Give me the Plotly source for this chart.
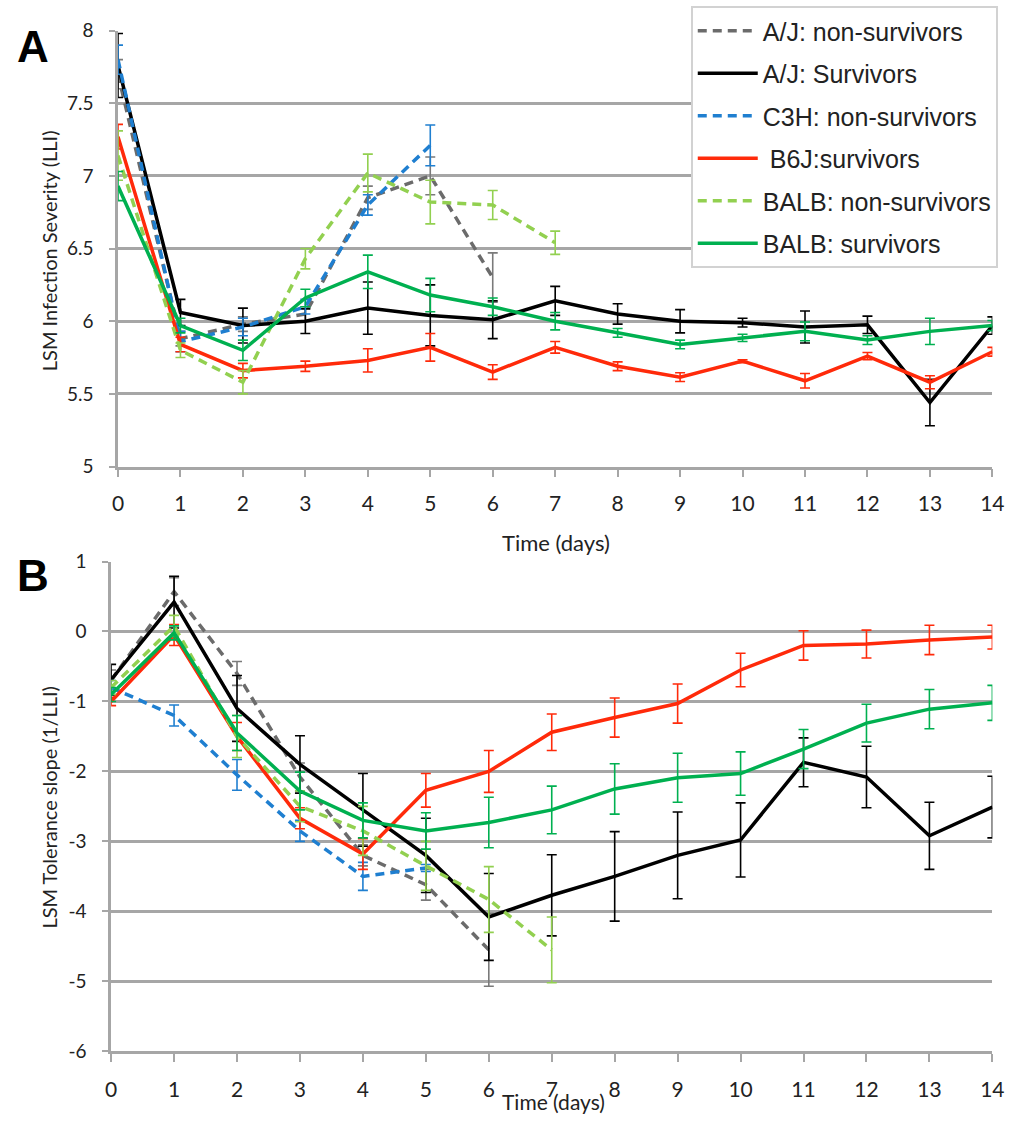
import plotly.graph_objects as go

# ---------------- data ----------------
series_names = ["A/J: non-survivors", "A/J: Survivors", "C3H: non-survivors",
                " B6J:survivors", "BALB: non-survivors", "BALB: survivors"]

days_full = list(range(15))
days_aj_ns = list(range(7))
days_c3h_ns = list(range(6))
days_balb_ns = list(range(8))

# Panel A: LSM Infection Severity (LLI)
A_aj_ns = [7.70, 5.88, 5.98, 6.05, 6.85, 7.00, 6.30]
A_aj_ns_err = [0.10, 0.05, 0.05, 0.05, 0.08, 0.13, 0.17]
A_aj_s = [7.76, 6.06, 5.97, 6.00, 6.09, 6.04, 6.01, 6.14, 6.05, 6.00, 5.99, 5.96, 5.975, 5.44, 5.97]
A_aj_s_err = [0.22, 0.09, 0.12, 0.085, 0.18, 0.21, 0.13, 0.10, 0.07, 0.08, 0.03, 0.11, 0.06, 0.16, 0.06]
A_c3h_ns = [7.80, 5.86, 5.96, 6.10, 6.80, 7.21]
A_c3h_ns_err = [0.10, 0.07, 0.06, 0.05, 0.07, 0.14]
A_b6j_s = [7.27, 5.84, 5.66, 5.69, 5.73, 5.82, 5.65, 5.82, 5.69, 5.615, 5.725, 5.59, 5.76, 5.58, 5.79]
A_b6j_s_err = [0.085, 0.05, 0.05, 0.035, 0.08, 0.095, 0.05, 0.04, 0.03, 0.03, 0.01, 0.05, 0.025, 0.045, 0.03]
A_balb_ns = [7.14, 5.80, 5.58, 6.43, 7.02, 6.82, 6.80, 6.54]
A_balb_ns_err = [0.17, 0.05, 0.08, 0.07, 0.13, 0.15, 0.10, 0.08]
A_balb_s = [6.93, 5.97, 5.80, 6.16, 6.34, 6.18, 6.10, 6.00, 5.92, 5.84, 5.885, 5.93, 5.87, 5.93, 5.97]
A_balb_s_err = [0.10, 0.05, 0.07, 0.06, 0.115, 0.115, 0.06, 0.06, 0.03, 0.03, 0.025, 0.065, 0.03, 0.09, 0.035]

# Panel B: LSM Tolerance slope (1/LLI)
B_aj_ns = [-0.70, 0.57, -0.60, -2.08, -3.20, -3.62, -4.55]
B_aj_ns_err = [0.15, 0.20, 0.17, 0.20, 0.15, 0.22, 0.52]
B_aj_s = [-0.69, 0.42, -1.10, -1.90, -2.55, -3.20, -4.08, -3.77, -3.50, -3.20, -2.98, -1.87, -2.08, -2.92, -2.51]
B_aj_s_err = [0.22, 0.37, 0.47, 0.41, 0.52, 0.53, 0.62, 0.58, 0.64, 0.62, 0.53, 0.35, 0.44, 0.48, 0.44]
B_c3h_ns = [-0.80, -1.20, -2.05, -2.85, -3.50, -3.38]
B_c3h_ns_err = [0.10, 0.15, 0.22, 0.15, 0.20, 0.05]
B_b6j_s = [-1.00, -0.05, -1.50, -2.67, -3.18, -2.27, -2.00, -1.44, -1.23, -1.03, -0.55, -0.20, -0.18, -0.12, -0.08]
B_b6j_s_err = [0.06, 0.15, 0.20, 0.15, 0.22, 0.24, 0.30, 0.26, 0.28, 0.28, 0.24, 0.21, 0.20, 0.21, 0.17]
B_balb_ns = [-0.80, 0.08, -1.50, -2.50, -2.85, -3.35, -3.83, -4.55]
B_balb_ns_err = [0.10, 0.15, 0.30, 0.22, 0.35, 0.35, 0.47, 0.47]
B_balb_s = [-0.90, -0.02, -1.45, -2.28, -2.70, -2.85, -2.73, -2.55, -2.25, -2.09, -2.03, -1.68, -1.31, -1.11, -1.02]
B_balb_s_err = [0.10, 0.10, 0.25, 0.27, 0.25, 0.26, 0.36, 0.34, 0.36, 0.35, 0.31, 0.28, 0.27, 0.28, 0.25]

x_ticks = list(range(15))
A_yticks = [5, 5.5, 6, 6.5, 7, 7.5, 8]
A_yticklabels = ["5", "5.5", "6", "6.5", "7", "7.5", "8"]
B_yticks = [-6, -5, -4, -3, -2, -1, 0, 1]
B_yticklabels = ["-6", "-5", "-4", "-3", "-2", "-1", "0", "1"]

# ---------------- styles ----------------
colors = ["#6b6b6b", "#000000", "#1f7fd0", "#ff2a0a", "#92d050", "#00b050"]
err_colors = ["#7a7a7a", "#000000", "#1f7fd0", "#ff2a0a", "#92d050", "#00b050"]
dashes = ["9px,6px", "solid", "9px,6px", "solid", "9px,6px", "solid"]

A_sets = [(days_aj_ns, A_aj_ns, A_aj_ns_err), (days_full, A_aj_s, A_aj_s_err),
          (days_c3h_ns, A_c3h_ns, A_c3h_ns_err), (days_full, A_b6j_s, A_b6j_s_err),
          (days_balb_ns, A_balb_ns, A_balb_ns_err), (days_full, A_balb_s, A_balb_s_err)]
B_sets = [(days_aj_ns, B_aj_ns, B_aj_ns_err), (days_full, B_aj_s, B_aj_s_err),
          (days_c3h_ns, B_c3h_ns, B_c3h_ns_err), (days_full, B_b6j_s, B_b6j_s_err),
          (days_balb_ns, B_balb_ns, B_balb_ns_err), (days_full, B_balb_s, B_balb_s_err)]

fig = go.Figure()
for i, (d, v, e) in enumerate(A_sets):
    fig.add_trace(go.Scatter(
        x=d, y=v, mode="lines", name=series_names[i], legendgroup=f"g{i}",
        line=dict(color=colors[i], width=3.5, dash=dashes[i]),
        error_y=dict(type="data", array=e, color=err_colors[i], thickness=1.6, width=5),
        xaxis="x", yaxis="y", showlegend=True))
for i, (d, v, e) in enumerate(B_sets):
    fig.add_trace(go.Scatter(
        x=d, y=v, mode="lines", name=series_names[i], legendgroup=f"g{i}",
        line=dict(color=colors[i], width=3.5, dash=dashes[i]),
        error_y=dict(type="data", array=e, color=err_colors[i], thickness=1.6, width=5),
        xaxis="x2", yaxis="y2", showlegend=False))

W, H = 1025, 1124
axis_gray = "#a6a6a6"
xtick_font = dict(family="Lato, Open Sans, sans-serif", size=21, color="#222")
ytick_font = dict(family="Lato, Open Sans, sans-serif", size=19, color="#222")

common_x = dict(range=[0, 14], tickvals=x_ticks, showgrid=False, zeroline=False,
                showline=True, linecolor=axis_gray, linewidth=2.5,
                ticks="outside", ticklen=8, tickwidth=1.5, tickcolor=axis_gray,
                tickfont=xtick_font)
common_y = dict(showgrid=True, gridcolor=axis_gray, gridwidth=2.5, zeroline=False,
                showline=True, linecolor=axis_gray, linewidth=2.5,
                ticks="outside", ticklen=6, tickwidth=1.5, tickcolor=axis_gray,
                tickfont=ytick_font)

fig.update_layout(
    width=W, height=H,
    margin=dict(l=0, r=0, t=0, b=0),
    paper_bgcolor="white", plot_bgcolor="white",
    showlegend=True,
    xaxis=dict(domain=[114 / W, 1004 / W], anchor="y", ticklabelstandoff=9, **common_x),
    yaxis=dict(domain=[1 - 464 / H, 1 - 19 / H], anchor="x", range=[5, 8],
               tickvals=A_yticks, ticktext=A_yticklabels,
               ticklabelstandoff=12, **common_y),
    xaxis2=dict(domain=[107 / W, 1004 / W], anchor="y2", ticklabelstandoff=10, **common_x),
    yaxis2=dict(domain=[1 - 1061 / H, 1 - 561 / H], anchor="x2", range=[-6, 1],
                tickvals=B_yticks, ticktext=B_yticklabels,
                ticklabelstandoff=12, **common_y),
    legend=dict(x=697 / W, y=1 + 6 / H, xanchor="left", yanchor="top",
                bgcolor="white", bordercolor="#d2d2d2", borderwidth=2,
                font=dict(family="Liberation Sans, Arial, sans-serif", size=25, color="#222"),
                itemwidth=60, tracegroupgap=7, traceorder="grouped",
                itemclick=False),
    annotations=[
        dict(text="<b>A</b>", x=27 / W, y=1 - 35 / H, xref="paper", yref="paper",
             xanchor="center", yanchor="middle",
             showarrow=False, font=dict(family="Liberation Sans, Arial", size=44, color="black")),
        dict(text="<b>B</b>", x=27 / W, y=1 - 575 / H, xref="paper", yref="paper",
             xanchor="center", yanchor="middle",
             showarrow=False, font=dict(family="Liberation Sans, Arial", size=44, color="black")),
        dict(text="LSM Infection Severity (LLI)", x=44 / W, y=1 - 244 / H, xref="paper", yref="paper",
             xanchor="center", yanchor="middle",
             showarrow=False, textangle=-90, font=dict(family="Lato, Open Sans, sans-serif", size=20, color="#222")),
        dict(text="LSM Tolerance slope (1/LLI)", x=44 / W, y=1 - 812 / H, xref="paper", yref="paper",
             xanchor="center", yanchor="middle",
             showarrow=False, textangle=-90, font=dict(family="Lato, Open Sans, sans-serif", size=20, color="#222")),
        dict(text="Time (days)", x=560 / W, y=1 - 542 / H, xref="paper", yref="paper",
             xanchor="center", yanchor="middle",
             showarrow=False, font=dict(family="Lato, Open Sans, sans-serif", size=22, color="#222")),
        dict(text="Time (days)", x=557 / W, y=1 - 1112 / H, xref="paper", yref="paper",
             xanchor="center", yanchor="middle",
             showarrow=False, font=dict(family="Lato, Open Sans, sans-serif", size=21, color="#222")),
    ],
)

fig.write_html("out.html")
